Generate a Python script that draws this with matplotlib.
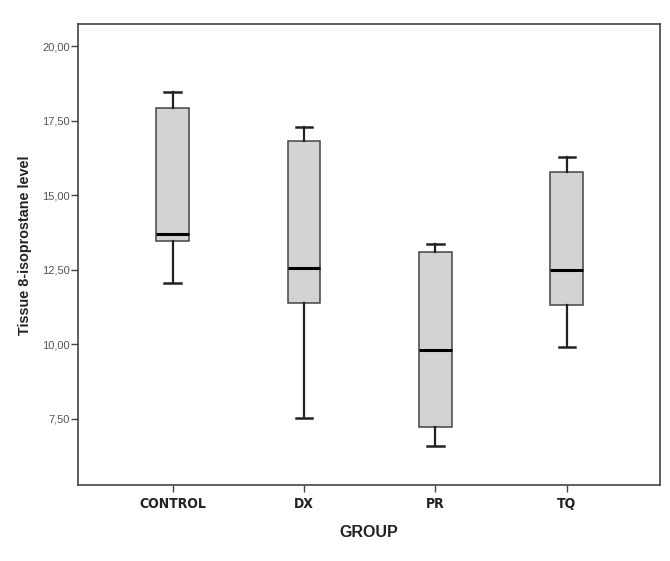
import matplotlib
matplotlib.use("Agg")
import matplotlib.pyplot as plt

groups = ["CONTROL", "DX", "PR", "TQ"]
whisker_low = [12.07, 7.52, 6.58, 9.90]
q1 = [13.45, 11.38, 7.22, 11.31]
median = [13.71, 12.56, 9.82, 12.48]
q3 = [17.94, 16.81, 13.10, 15.77]
whisker_high = [18.45, 17.29, 13.36, 16.29]
yticks = [7.5, 10.0, 12.5, 15.0, 17.5, 20.0]
ytick_labels = ["7,50", "10,00", "12,50", "15,00", "17,50", "20,00"]

fig = plt.figure(figsize=(6.70, 5.61), dpi=100)
ax = fig.add_axes([78/670, 1 - 484.5/561, (660-78)/670, (484.5-24)/561])

stats = []
for g, lo, a, m, b, hi in zip(groups, whisker_low, q1, median, q3, whisker_high):
    stats.append(dict(label=g, whislo=lo, q1=a, med=m, q3=b, whishi=hi, fliers=[]))

ax.bxp(stats, positions=range(len(groups)), widths=0.25, capwidths=0.125,
       patch_artist=True, showfliers=False,
       boxprops=dict(facecolor="#d3d3d3", edgecolor="#444444", linewidth=1.1),
       medianprops=dict(color="black", linewidth=2.2),
       whiskerprops=dict(color="#222222", linewidth=1.6),
       capprops=dict(color="#222222", linewidth=1.8))

ax.set_xlim(-0.72, 3.71)
ax.set_ylim(5.30, 20.74)
ax.set_yticks(yticks)
ax.set_yticklabels(ytick_labels, fontsize=8, color="#555555", family="Liberation Sans")
ax.set_xticks(range(len(groups)))
ax.set_xticklabels(groups, fontsize=10, fontweight="bold", color="#222222",
                   family="DejaVu Sans", fontstretch="condensed")
ax.tick_params(axis="y", direction="out", length=5, width=1, color="#444444", pad=1)
ax.tick_params(axis="x", direction="out", length=5, width=1, color="#444444", pad=4)
for s in ax.spines.values():
    s.set_color("#444444")
    s.set_linewidth(1.2)

ax.set_ylabel("Tissue 8-isoprostane level", fontsize=10.4, fontweight="bold",
              family="Liberation Sans", color="#222222")
ax.yaxis.set_label_coords(-0.079, 0.52)
ax.set_xlabel("GROUP", fontsize=11.5, fontweight="bold", family="Liberation Sans",
              color="#222222", labelpad=10)

fig.savefig("out.png", dpi=100)
